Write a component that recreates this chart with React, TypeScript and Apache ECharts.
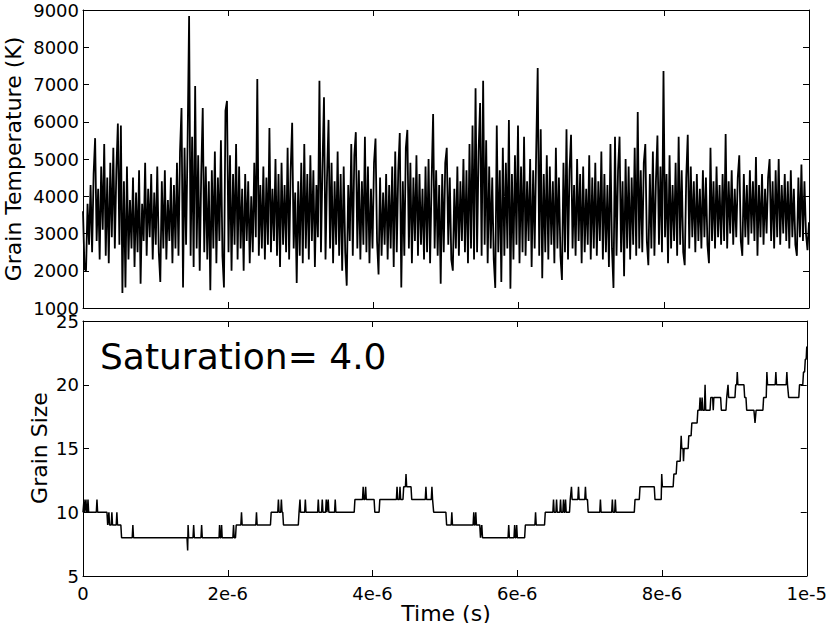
import React, { useEffect, useRef } from "react";
import * as echarts from "echarts";

// x axis in microseconds (0 .. 10 us = 1e-5 s)
const X_MAX = 10;
const xTickLabels = ["0", "2e-6", "4e-6", "6e-6", "8e-6", "1e-5"];
const tempRange = [1000, 9000];
const sizeRange = [5, 25];

// Grain temperature (K), sampled uniformly over 0 .. 1e-5 s
const grainTemperature = [
  3600, 2050, 2000, 3800, 2700, 4300, 2500, 4600, 5560, 2800, 4200, 2300, 4800, 3100, 5400, 2400, 4500, 2200, 4900, 2900,
  5300, 2600, 4700, 5950, 2700, 5900, 1400, 4400, 1550, 4800, 2300, 3900, 2600, 4500, 2100, 4100, 2500, 4700, 1650, 3800,
  2800, 4900, 2400, 4200, 2900, 4600, 2300, 4100, 2700, 4800, 2500, 1700, 4400, 2600, 4700, 2300, 3900, 2800, 4500, 2200,
  4300, 2600, 4900, 2400, 5200, 6370, 1550, 5300, 2700, 5400, 8840, 2400, 5600, 2100, 6960, 2600, 5100, 2000, 4600, 6370,
  2500, 4800, 2300, 4400, 1480, 4700, 2600, 5200, 2200, 4500, 2800, 5500, 2400, 1550, 6300, 6560, 2500, 5100, 2000, 4600,
  2700, 5400, 2300, 4800, 2600, 4200, 2000, 4600, 2800, 4400, 2200, 4000, 2500, 4900, 2900, 7150, 2400, 4300, 2600, 4800,
  2300, 4500, 2700, 5830, 2500, 4200, 2800, 5000, 2400, 4600, 2100, 4900, 2700, 4300, 2500, 5300, 2300, 4700, 5970, 2600,
  4100, 1670, 4400, 2400, 4900, 2200, 5400, 2600, 4600, 2300, 5100, 2800, 4700, 2100, 4300, 2900, 7100, 2500, 4800, 6660,
  2300, 4500, 6050, 2600, 4900, 2200, 4400, 2700, 5200, 2400, 4600, 2000, 4800, 2500, 1600, 4300, 2800, 5400, 2400, 5100,
  5720, 2600, 4700, 2300, 4400, 2700, 5600, 2500, 4800, 2200, 4200, 2600, 4900, 5550, 2800, 1900, 4500, 2400, 4100, 2700,
  4600, 2300, 4300, 2600, 4800, 2100, 5200, 2500, 4700, 5700, 1550, 4400, 2400, 5300, 5780, 2600, 4900, 2200, 4500, 2800,
  5100, 2400, 4600, 2700, 4200, 2300, 4800, 2500, 5000, 2200, 4400, 6210, 2600, 4700, 2400, 4300, 1650, 4600, 2500, 4900,
  5300, 2700, 4500, 2300, 2000, 4200, 2600, 4800, 2400, 4400, 2800, 5000, 2500, 4700, 2200, 5400, 2600, 5900, 2300, 6900,
  2500, 5200, 6500, 2400, 7100, 2700, 5500, 2200, 4800, 2600, 4500, 2300, 1540, 5900, 2500, 4700, 1700, 5300, 2400, 4900,
  2600, 6050, 1520, 4600, 2300, 5100, 2700, 5900, 2200, 4800, 2500, 5600, 2400, 4400, 2800, 5000, 2100, 4700, 2600, 5200,
  7440, 2400, 5800, 1800, 4600, 2500, 5100, 2300, 4800, 2700, 4400, 2200, 5300, 2600, 4500, 2400, 1750, 4900, 2500, 5800,
  2300, 4700, 5650, 2600, 4300, 2400, 5000, 2800, 4600, 2200, 4800, 2500, 4200, 2700, 5100, 2300, 4500, 2600, 4900, 2400,
  4400, 2800, 5200, 2300, 4600, 2500, 4300, 2100, 5400, 2600, 1540, 5600, 2400, 4700, 5600, 2500, 4400, 1850, 5000, 2600,
  4800, 2300, 4500, 2700, 5300, 2400, 6260, 2600, 4700, 2500, 4900, 5400, 2800, 2150, 4600, 2600, 5200, 2400, 4400, 5630,
  2700, 4800, 2500, 7360, 2900, 4600, 2200, 5100, 2600, 4300, 2800, 4900, 2400, 5600, 2700, 4700, 2500, 2150, 4500, 5650,
  2600, 4800, 2900, 4400, 2500, 4600, 2800, 4200, 2600, 4700, 2900, 4500, 2700, 2200, 5300, 2800, 4400, 2600, 4800, 2900,
  4300, 2700, 4600, 2800, 5670, 2600, 4400, 3000, 4700, 2700, 4200, 2900, 4500, 5100, 2800, 2400, 4600, 2900, 4300, 2700,
  4700, 3000, 4400, 2800, 5050, 2400, 4300, 2900, 4600, 2700, 4200, 3000, 4500, 5000, 2800, 4400, 2600, 4700, 2900, 5000,
  2700, 4300, 3000, 4600, 2800, 4400, 2600, 4700, 2900, 4200, 2700, 2400, 4500, 2900, 4850, 2800, 4400, 3000, 2550, 3300,
];

// Grain size vertices: [time (us), size]
const grainSize: [number, number][] = [
  [0, 10],
  [0.005, 10], [0.014, 11], [0.024, 10],
  [0.032, 10], [0.041, 11], [0.05, 10],
  [0.06, 10], [0.069, 11], [0.078, 10],
  [0.184, 10], [0.193, 11], [0.202, 10],
  [0.331, 10], [0.341, 9],
  [0.349, 9], [0.358, 10], [0.367, 9],
  [0.39, 9], [0.399, 10], [0.408, 9],
  [0.459, 9], [0.468, 10], [0.477, 9],
  [0.523, 9], [0.533, 8],
  [0.68, 8], [0.689, 9], [0.698, 8],
  [1.437, 8], [1.446, 7], [1.452, 9], [1.46, 8],
  [1.52, 8], [1.529, 9], [1.538, 8],
  [1.63, 8], [1.639, 9], [1.648, 8],
  [1.88, 8], [1.887, 9], [1.895, 8], [1.907, 8], [1.915, 9], [1.923, 8],
  [2.071, 8], [2.08, 9], [2.089, 8],
  [2.107, 8], [2.117, 9],
  [2.181, 9], [2.19, 10], [2.199, 9],
  [2.388, 9], [2.397, 10], [2.406, 9],
  [2.59, 9], [2.6, 10],
  [2.691, 10], [2.7, 11], [2.709, 10],
  [2.732, 10], [2.741, 11], [2.75, 10],
  [2.76, 10], [2.77, 9],
  [2.975, 9], [2.985, 10],
  [2.99, 10], [2.998, 11], [3.006, 10],
  [3.063, 10], [3.072, 11], [3.081, 10],
  [3.242, 10], [3.251, 11], [3.26, 10],
  [3.297, 10], [3.306, 11], [3.315, 10],
  [3.352, 10], [3.361, 11], [3.37, 10],
  [3.379, 10], [3.388, 11], [3.397, 10],
  [3.476, 10], [3.485, 11], [3.494, 10],
  [3.747, 10], [3.757, 11],
  [3.862, 11], [3.871, 12], [3.88, 11], [3.895, 11], [3.905, 12], [3.914, 11],
  [4.022, 11], [4.032, 10],
  [4.091, 10], [4.101, 11],
  [4.33, 11], [4.339, 12], [4.348, 11],
  [4.371, 11], [4.38, 12], [4.389, 11],
  [4.421, 11], [4.431, 12],
  [4.455, 12], [4.463, 13], [4.472, 12],
  [4.532, 12], [4.542, 11],
  [4.729, 11], [4.738, 12], [4.747, 11],
  [4.812, 11], [4.821, 12], [4.83, 11],
  [4.835, 11], [4.845, 10],
  [5.014, 10], [5.024, 9],
  [5.087, 9], [5.096, 10], [5.105, 9],
  [5.39, 9], [5.399, 10], [5.408, 9], [5.418, 9], [5.427, 10], [5.436, 9],
  [5.482, 9], [5.492, 8],
  [5.5, 8], [5.51, 9], [5.52, 8],
  [5.873, 8], [5.882, 9], [5.891, 8],
  [5.955, 8], [5.964, 9], [5.973, 8], [5.983, 8], [5.992, 9], [6.001, 8],
  [6.102, 8], [6.112, 9],
  [6.244, 9], [6.253, 10], [6.262, 9],
  [6.377, 9], [6.387, 10],
  [6.492, 10], [6.501, 11], [6.51, 10],
  [6.534, 10], [6.543, 11], [6.552, 10],
  [6.589, 10], [6.598, 11], [6.607, 10],
  [6.63, 10], [6.639, 11], [6.648, 10],
  [6.658, 10], [6.667, 11], [6.676, 10],
  [6.722, 10], [6.732, 11],
  [6.74, 11], [6.749, 12], [6.758, 11],
  [6.837, 11], [6.846, 12], [6.855, 11],
  [6.933, 11], [6.942, 12], [6.951, 11],
  [6.97, 11], [6.98, 10],
  [7.14, 10], [7.149, 11], [7.158, 10],
  [7.305, 10], [7.314, 11], [7.323, 10],
  [7.346, 10], [7.355, 11], [7.364, 10],
  [7.617, 10], [7.627, 11],
  [7.686, 11], [7.696, 12],
  [7.893, 12], [7.903, 11],
  [7.989, 11], [7.996, 13], [8.005, 12],
  [8.154, 12], [8.164, 13],
  [8.196, 13], [8.206, 14],
  [8.251, 14], [8.258, 15], [8.265, 16], [8.273, 15],
  [8.29, 15], [8.297, 14], [8.305, 15],
  [8.361, 15], [8.37, 16],
  [8.402, 16], [8.412, 17],
  [8.485, 17], [8.495, 18],
  [8.517, 18], [8.526, 19], [8.535, 18],
  [8.545, 18], [8.554, 19], [8.563, 18],
  [8.586, 18], [8.595, 20], [8.604, 18],
  [8.664, 18], [8.674, 19],
  [8.7, 19], [8.708, 18], [8.716, 19],
  [8.81, 19], [8.82, 18],
  [8.884, 18], [8.894, 19],
  [8.903, 19], [8.912, 20], [8.921, 19],
  [9.008, 19], [9.018, 20],
  [9.032, 20], [9.04, 21], [9.048, 20],
  [9.132, 20], [9.142, 19],
  [9.16, 19], [9.17, 18],
  [9.27, 18], [9.285, 17], [9.3, 18],
  [9.394, 18], [9.404, 19],
  [9.44, 19], [9.449, 21], [9.458, 20],
  [9.564, 20], [9.573, 21], [9.582, 20],
  [9.716, 20], [9.725, 21], [9.734, 20],
  [9.74, 20], [9.75, 19],
  [9.89, 19], [9.9, 20],
  [9.945, 20], [9.955, 21],
  [9.97, 21], [9.98, 22],
  [9.992, 22], [10, 23],
];

const FONT = "DejaVu Sans";
const BLACK = "#000";

function labelStyle(show: boolean, margin: number, formatter?: (v: number) => string) {
  return {
    show,
    color: BLACK,
    fontFamily: FONT,
    fontSize: 18,
    margin,
    showMinLabel: true,
    showMaxLabel: true,
    formatter: formatter ?? ((v: number) => String(v)),
  };
}

function frameAxis(gridIndex: number, position: string, extra: any) {
  return {
    type: "value",
    gridIndex,
    position,
    axisLine: { show: true, onZero: false, lineStyle: { color: BLACK, width: 1 } },
    axisTick: { show: true, inside: true, length: 6, lineStyle: { color: BLACK, width: 1 } },
    splitLine: { show: false },
    axisLabel: { show: false },
    ...extra,
  };
}

export default function App() {
  const ref = useRef<HTMLDivElement>(null);

  useEffect(() => {
    document.body.style.margin = "0";
    if (!ref.current) return;
    const chart = echarts.init(ref.current, undefined, { renderer: "svg" });
    const n = grainTemperature.length;
    const tempData = grainTemperature.map((v, i) => [(i * X_MAX) / (n - 1), v]);
    const xBase = { min: 0, max: X_MAX, interval: 2 };
    const xFmt = (v: number) => xTickLabels[Math.round(v / 2)] ?? "";
    const tempY = { min: tempRange[0], max: tempRange[1], interval: 1000 };
    const sizeY = { min: sizeRange[0], max: sizeRange[1], interval: 5 };

    chart.setOption({
      animation: false,
      backgroundColor: "#fff",
      grid: [
        { left: 83, top: 10, width: 726, height: 298 },
        { left: 83, top: 321, width: 726, height: 255 },
      ],
      xAxis: [
        frameAxis(0, "bottom", xBase),
        frameAxis(0, "top", xBase),
        frameAxis(1, "bottom", { ...xBase, axisLabel: labelStyle(true, 8, xFmt) }),
        frameAxis(1, "top", xBase),
      ],
      yAxis: [
        frameAxis(0, "left", { ...tempY, axisLabel: labelStyle(true, 4) }),
        frameAxis(0, "right", tempY),
        frameAxis(1, "left", { ...sizeY, axisLabel: labelStyle(true, 4) }),
        frameAxis(1, "right", sizeY),
      ],
      series: [
        {
          type: "line",
          xAxisIndex: 0,
          yAxisIndex: 0,
          data: tempData,
          showSymbol: false,
          symbol: "none",
          clip: true,
          lineStyle: { color: BLACK, width: 1.8 },
        },
        {
          type: "line",
          xAxisIndex: 2,
          yAxisIndex: 2,
          data: grainSize,
          showSymbol: false,
          symbol: "none",
          clip: true,
          lineStyle: { color: BLACK, width: 1.5 },
        },
      ],
      graphic: [
        {
          type: "text",
          x: 13,
          y: 159,
          rotation: Math.PI / 2,
          style: {
            text: "Grain Temperature (K)",
            font: `22px "${FONT}"`,
            fill: BLACK,
            align: "center",
            verticalAlign: "middle",
          },
        },
        {
          type: "text",
          x: 39,
          y: 448,
          rotation: Math.PI / 2,
          style: {
            text: "Grain Size",
            font: `22px "${FONT}"`,
            fill: BLACK,
            align: "center",
            verticalAlign: "middle",
          },
        },
        {
          type: "text",
          x: 100,
          y: 356,
          style: {
            text: "Saturation= 4.0",
            font: `36px "${FONT}"`,
            fill: BLACK,
            align: "left",
            verticalAlign: "middle",
          },
        },
        {
          type: "text",
          x: 446,
          y: 613,
          style: {
            text: "Time (s)",
            font: `22px "${FONT}"`,
            fill: BLACK,
            align: "center",
            verticalAlign: "middle",
          },
        },
      ],
    });
    return () => chart.dispose();
  }, []);

  return <div ref={ref} style={{ width: 830, height: 623 }} />;
}
